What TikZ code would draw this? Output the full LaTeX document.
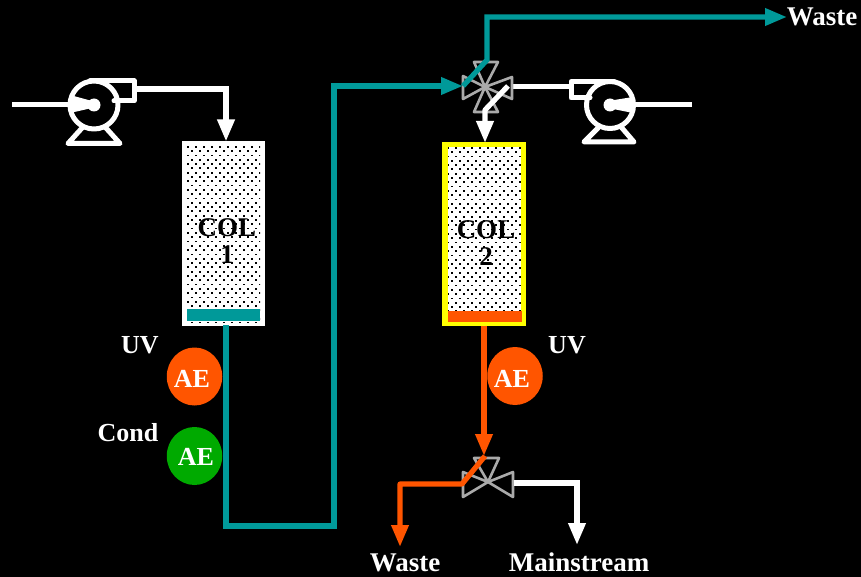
\documentclass[tikz,border=0pt]{standalone}
\usepackage{fontspec}
\setmainfont{Liberation Serif}
\usetikzlibrary{arrows.meta,shapes.geometric}
\definecolor{teal1}{HTML}{009999}
\definecolor{orng}{HTML}{FF5500}
\definecolor{grn}{HTML}{00AA00}
\definecolor{vgray}{HTML}{AAAAAA}
\definecolor{yel}{HTML}{FFFF00}
\tikzset{
 x=1pt,y=-1pt,
 pipe/.style={line width=5.2pt,line join=miter},
 tippipe/.style={pipe,-{Triangle[length=22pt,width=16.5pt,sharp]}},
 lab/.style={text=white,font=\bfseries\fontsize{26}{26}\selectfont,inner sep=0pt},
 biglab/.style={text=white,font=\bfseries\fontsize{27}{27}\selectfont,inner sep=0pt,anchor=base},
 collab/.style={text=black,font=\bfseries\fontsize{27}{27}\selectfont,inner sep=0pt,align=center},
 aedisc/.style={ellipse,minimum width=55.5pt,minimum height=58pt,inner sep=0pt},
 pumpline/.style={white,line width=5pt,line join=round,line cap=round},
 valveline/.style={vgray,line width=2.6pt,line join=round},
}
\newcommand{\dottedbox}[4]{%
 \fill[white] (#1,#2) rectangle (#3,#4);
 \begin{scope}
 \clip (#1+5,#2+5) rectangle (#3-5,#4-4);
 \foreach \r in {0,...,45}{
  \foreach \c in {-1,...,12}{
   \pgfmathsetmacro\xx{#1+5+\c*8+mod(\r,2)*4}
   \pgfmathsetmacro\yy{#2+5+\r*4.3}
   \fill[black] (\xx,\yy) rectangle ++(1.8,1.8);
  }
 }
 \end{scope}}
\begin{document}
\begin{tikzpicture}
\useasboundingbox (0,0) rectangle (861,577);
\fill[black] (0,0) rectangle (861,577);

% columns
\dottedbox{182}{141}{265}{326}
\fill[teal1] (187,309) rectangle (260,320.5);
\dottedbox{442}{142}{526}{326}
\draw[yel,line width=5.2pt] (445,144.5) rectangle (523.5,323.5);
\fill[orng] (448,311) rectangle (521.5,321.5);
\node[collab] (c1) at (227,241) {COL\\1};
\node[collab] (c2) at (486,243) {COL\\2};

% pumps
\begin{scope}[shift={(94,105)}]
 \draw[pumpline] (0,0) circle (24pt);
 \fill[white] (0,0) circle (6.5pt);
 \fill[white] (-24,-10) -- (-24,8) -- (-2,3) -- (-2,-4) -- cycle;
 \draw[pumpline] (-4,-24) -- (40,-24) -- (40,-4) -- (20,-4);
 \draw[pumpline] (-12,23) -- (-26,38.5) -- (26,38.5) -- (12,23);
\end{scope}
\begin{scope}[shift={(610,105)}]
 \draw[pumpline] (0,0) circle (23.5pt);
 \fill[white] (0,0) circle (6.5pt);
 \fill[white] (23,-8) -- (23,8) -- (-2,3) -- (-2,-4) -- cycle;
 \draw[pumpline] (4,-23.5) -- (-39,-23.5) -- (-39,-7) -- (-20,-7);
 \draw[pumpline] (-12,23) -- (-26,37) -- (24,37) -- (12,23);
\end{scope}
\coordinate (pa) at (12,105);
\coordinate (pb) at (70,105);
\draw[white,line width=5pt] (pa) -- (pb);
\coordinate (pc) at (692,105);
\coordinate (pd) at (633,105);
\draw[white,line width=5pt] (pc) -- (pd);

% white pipes
\coordinate (w1) at (134,89);
\coordinate (w2) at (226,89);
\coordinate (w3) at (226,141.5);
\draw[tippipe,white] (w1) -- (w2) -- (w3);
\coordinate (w4) at (513,87);
\coordinate (w5) at (569,87);
\draw[white,line width=5pt] (w4) -- (w5);

% four-way valve
\begin{scope}[shift={(485,87)}]
 \draw[valveline] (0,0) -- (-22,-11) -- (-22,12) -- cycle;
 \draw[valveline] (0,0) -- (27,-10) -- (27,12) -- cycle;
 \draw[valveline] (0,0) -- (-11,-25) -- (13,-25) -- cycle;
 \draw[valveline] (0,0) -- (-11,25) -- (13,25) -- cycle;
\end{scope}

% valve white and teal pipes
\coordinate (v1) at (508,86);
\coordinate (v2) at (485,110);
\coordinate (v3) at (485,143);
\draw[tippipe,white,line join=round] (v1) -- (v2) -- (v3);
\coordinate (t1) at (226,325);
\coordinate (t2) at (226,526);
\coordinate (t3) at (334,526);
\coordinate (t4) at (334,86);
\coordinate (t5) at (463,86);
\draw[tippipe,teal1] (t1) -- (t2) -- (t3) -- (t4) -- (t5);
\coordinate (t6) at (463,86);
\coordinate (t7) at (487,60);
\coordinate (t8) at (487,17);
\coordinate (t9) at (787,17);
\draw[tippipe,teal1] (t6) -- (t7) -- (t8) -- (t9);

% three-way valve
\begin{scope}[shift={(488,482)}]
 \draw[valveline] (0,0) -- (-25,-10) -- (-25,15) -- cycle;
 \draw[valveline] (0,0) -- (25,-10) -- (25,15) -- cycle;
 \draw[valveline] (0,0) -- (-14,-24) -- (11,-24) -- cycle;
\end{scope}
\coordinate (o1) at (484,326);
\coordinate (o2) at (484,456);
\draw[tippipe,orng] (o1) -- (o2);
\coordinate (o3) at (485,456);
\coordinate (o4) at (462,484);
\coordinate (o5) at (400,484);
\coordinate (o6) at (400,547);
\draw[tippipe,orng,line join=round] (o3) -- (o4) -- (o5) -- (o6);
\coordinate (m1) at (514,483);
\coordinate (m2) at (577,483);
\coordinate (m3) at (577,545);
\draw[tippipe,white] (m1) -- (m2) -- (m3);

% analyzers
\node[aedisc,fill=orng] (ae1) at (194.5,376.5) {};
\node[aedisc,fill=grn] (ae2) at (194.5,456) {};
\node[aedisc,fill=orng] (ae3) at (515,376) {};
\node[lab] (ae1t) at (192,379) {AE};
\node[lab] (ae2t) at (196,456.5) {AE};
\node[lab] (ae3t) at (512,379) {AE};
\node[lab] (uv1) at (140,345) {UV};
\node[lab] (cond) at (128,433) {Cond};
\node[lab] (uv2) at (567,345) {UV};
\node[biglab] (w1t) at (822,26) {Waste};
\node[biglab] (w2t) at (405,571) {Waste};
\node[biglab] (mt) at (579,571) {Mainstream};
\end{tikzpicture}
\end{document}
